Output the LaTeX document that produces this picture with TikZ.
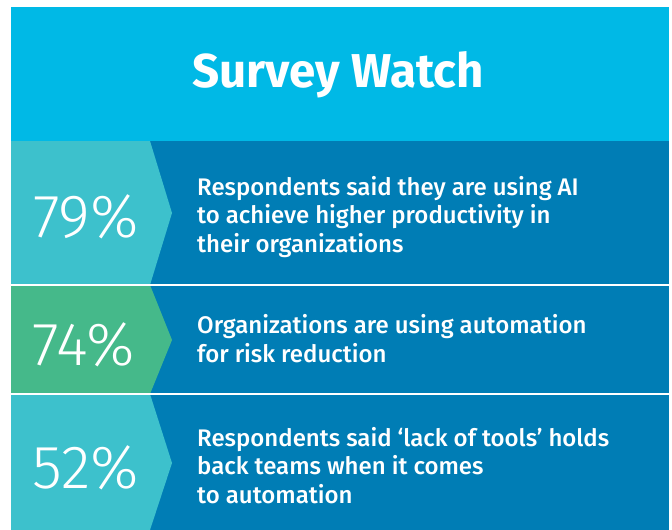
\documentclass[tikz,border=0pt]{standalone}
\usepackage{fontspec}
\setmainfont{Fira Sans}
\newfontfamily\medfont{Fira Sans Medium}
\newfontfamily\lightfont{Fira Sans Light}
\definecolor{headblue}{HTML}{00B9E6}
\definecolor{darkblue}{HTML}{007DB5}
\definecolor{teal}{HTML}{3DC1CC}
\definecolor{green}{HTML}{45B98A}
\tikzset{
  pct/.style={text=white, font={\lightfont\fontsize{61}{61}\selectfont}, anchor=base, inner sep=0pt},
  body/.style={text=white, font={\medfont\fontsize{24}{28.5}\selectfont}, anchor=base west, align=left, inner sep=0pt},
  title/.style={text=white, font={\bfseries\fontsize{47.5}{48}\selectfont}, anchor=base, inner sep=0pt},
  sep/.style={white, line width=1.5pt}
}
\begin{document}
\begin{tikzpicture}[x=1pt,y=-1pt]
\useasboundingbox (0,0) rectangle (672,530);
\fill[white] (0,0) rectangle (672,530);
% header
\fill[headblue] (11,7) rectangle (669,141);
\node[title] (title) at (338,87) {Survey Watch};
% row backgrounds
\fill[darkblue] (11,141) rectangle (669,530);
\fill[teal] (11,141) -- (150,141) -- (172,213) -- (150,285) -- (11,285) -- cycle;
\fill[green] (11,285) -- (150,285) -- (172,340) -- (150,394) -- (11,394) -- cycle;
\fill[teal] (11,394) -- (150,394) -- (172,463) -- (150,530) -- (11,530) -- cycle;
\draw[sep] (11,285) -- (669,285);
\draw[sep] (11,394) -- (669,394);
% percentages
\node[pct] (p1) at (86,237) {79\%};
\node[pct] (p2) at (83.5,365) {74\%};
\node[pct] (p3) at (85.5,488) {52\%};
% texts (base = last line's baseline)
\node[body] (t1) at (197,252) {Respondents said they are using AI\\to achieve higher productivity in\\their organizations};
\node[body] (t2) at (197,362) {Organizations are using automation\\for risk reduction};
\node[body] (t3) at (197,503) {Respondents said ‘lack of tools’ holds\\back teams when it comes\\to automation};
\end{tikzpicture}
\end{document}
